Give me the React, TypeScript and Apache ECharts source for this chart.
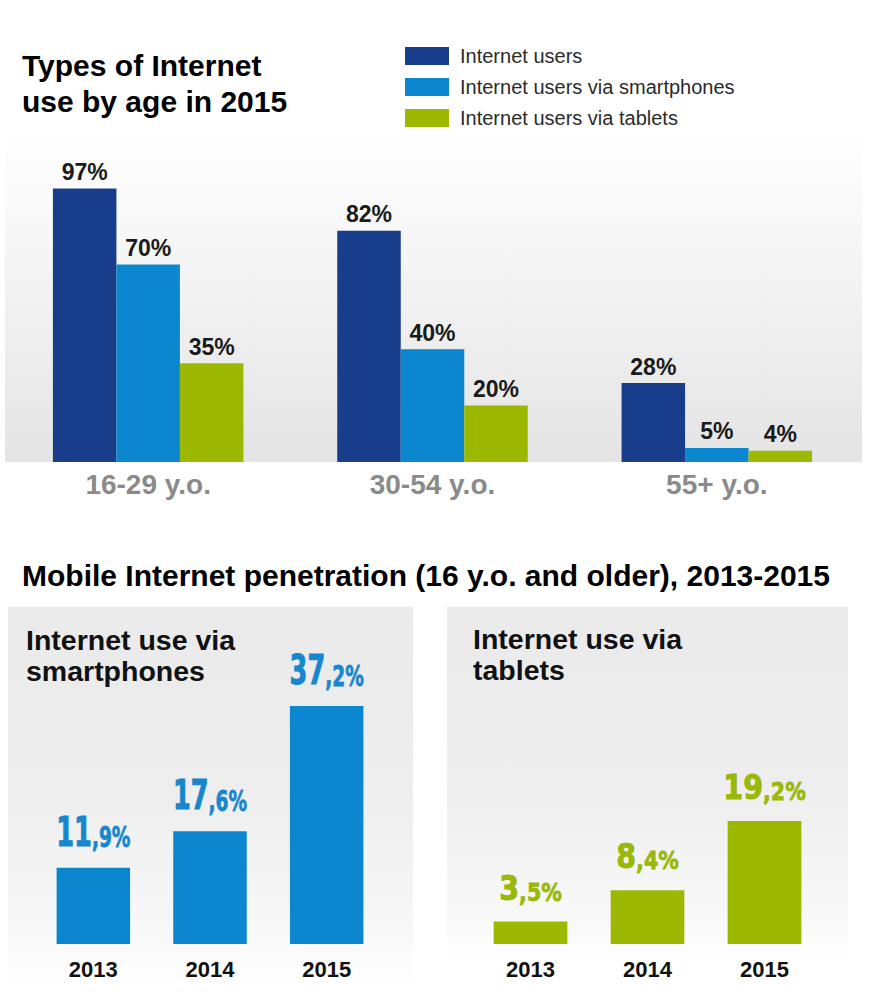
import React, { useEffect, useRef } from "react";
import * as echarts from "echarts";

// ---- data ----
const ageGroups = ["16-29 y.o.", "30-54 y.o.", "55+ y.o."];
const seriesNames = [
  "Internet users",
  "Internet users via smartphones",
  "Internet users via tablets",
];
const internetUsers = [97, 82, 28];
const smartphoneUsers = [70, 40, 5];
const tabletUsers = [35, 20, 4];

const years = ["2013", "2014", "2015"];
const smartphonePenetration = [11.9, 17.6, 37.2];
const tabletPenetration = [3.5, 8.4, 19.2];

const titleTop = "Types of Internet\nuse by age in 2015";
const titleBottom = "Mobile Internet penetration (16 y.o. and older), 2013-2015";
const panelTitleLeft = "Internet use via\nsmartphones";
const panelTitleRight = "Internet use via\ntablets";

// ---- styles ----
const DARK = "#173d8b";
const BLUE = "#0a87cf";
const GREEN = "#9cb800";
const LABEL_BLUE = "#1886cd";
const LABEL_GREEN = "#9ab80a";
const FONT = '"Liberation Sans", Arial, Helvetica, sans-serif';

function bigLabelSeries(
  name: string,
  values: number[],
  axisIndex: number,
  color: string,
  big: number,
  small: number,
  scaleX: number,
  offset: number
) {
  return {
    type: "custom",
    name,
    xAxisIndex: axisIndex,
    yAxisIndex: axisIndex,
    silent: true,
    z: 5,
    data: values.map((v, i) => [i, v]),
    renderItem: (params: any, api: any) => {
      const v = api.value(1) as number;
      const pt = api.coord([api.value(0), v]);
      const parts = v.toFixed(1).split(".");
      return {
        type: "text",
        x: pt[0],
        y: pt[1] - offset,
        scaleX,
        style: {
          text: `{a|${parts[0]}}{b|,${parts[1]}%}`,
          align: "center",
          verticalAlign: "bottom",
          fill: color,
          rich: {
            a: {
              fontSize: big,
              fontWeight: "bold",
              fontFamily: '"DejaVu Sans", sans-serif',
              fill: color,
              stroke: color,
              lineWidth: 1,
              verticalAlign: "bottom",
            },
            b: {
              fontSize: small,
              fontWeight: "bold",
              fontFamily: '"DejaVu Sans", sans-serif',
              fill: color,
              stroke: color,
              lineWidth: 0.8,
              verticalAlign: "bottom",
            },
          },
        },
      };
    },
  };
}

export default function App() {
  const ref = useRef<HTMLDivElement>(null);

  useEffect(() => {
    if (!ref.current) return;
    const chart = echarts.init(ref.current, null, { renderer: "svg" });

    const topBarLabel = {
      show: true,
      position: "top",
      distance: 5,
      formatter: "{c}%",
      fontSize: 23,
      fontWeight: "bold",
      fontFamily: FONT,
      color: "#1a1a1a",
    };

    const panelFill = () =>
      new echarts.graphic.LinearGradient(0, 0, 0, 1, [
        { offset: 0, color: "#eaeaea" },
        { offset: 0.5, color: "#eeeeee" },
        { offset: 0.85, color: "#f8f8f8" },
        { offset: 1, color: "#ffffff" },
      ]);

    const option: any = {
      animation: false,
      backgroundColor: "#ffffff",
      textStyle: { fontFamily: FONT },
      graphic: [
        {
          type: "rect",
          z: -10,
          shape: { x: 5, y: 130, width: 857, height: 332 },
          style: {
            fill: new echarts.graphic.LinearGradient(0, 0, 0, 1, [
              { offset: 0, color: "#ffffff" },
              { offset: 0.35, color: "#f6f6f6" },
              { offset: 1, color: "#e4e4e4" },
            ]),
          },
        },
        {
          type: "rect",
          z: -10,
          shape: { x: 8, y: 607, width: 405, height: 380 },
          style: { fill: panelFill() },
        },
        {
          type: "rect",
          z: -10,
          shape: { x: 447, y: 607, width: 401, height: 360 },
          style: { fill: panelFill() },
        },
        {
          type: "text",
          x: 22,
          y: 47,
          style: {
            text: titleTop,
            font: `bold 30px ${FONT}`,
            lineHeight: 36,
            fill: "#000000",
            verticalAlign: "top",
          },
        },
        {
          type: "text",
          x: 22,
          y: 560,
          style: {
            text: titleBottom,
            font: `bold 30px ${FONT}`,
            lineHeight: 30,
            fill: "#000000",
            verticalAlign: "top",
          },
        },
        {
          type: "text",
          x: 26,
          y: 624,
          style: {
            text: panelTitleLeft,
            font: `bold 28.5px ${FONT}`,
            lineHeight: 31,
            fill: "#111111",
            verticalAlign: "top",
          },
        },
        {
          type: "text",
          x: 473,
          y: 623,
          style: {
            text: panelTitleRight,
            font: `bold 28.5px ${FONT}`,
            lineHeight: 31,
            fill: "#111111",
            verticalAlign: "top",
          },
        },
      ],
      legend: {
        data: seriesNames,
        orient: "vertical",
        left: 405,
        top: 46,
        padding: 0,
        itemWidth: 44,
        itemHeight: 18,
        itemGap: 11,
        icon: "rect",
        selectedMode: false,
        textStyle: {
          fontSize: 20,
          color: "#2b2b2b",
          fontFamily: FONT,
          padding: [0, 0, 0, 6],
        },
      },
      grid: [
        { left: 6, width: 853, top: 180, height: 282 },
        { left: 35, width: 350, top: 688, height: 256 },
        { left: 472, width: 351, top: 688, height: 256 },
      ],
      xAxis: [
        {
          gridIndex: 0,
          type: "category",
          data: ageGroups,
          axisLine: { show: false },
          axisTick: { show: false },
          axisLabel: {
            margin: 8,
            fontSize: 28,
            fontWeight: "bold",
            color: "#8a8a8a",
            fontFamily: FONT,
          },
        },
        {
          gridIndex: 1,
          type: "category",
          data: years,
          axisLine: { show: false },
          axisTick: { show: false },
          axisLabel: {
            margin: 14,
            fontSize: 22,
            fontWeight: "bold",
            color: "#111111",
            fontFamily: FONT,
          },
        },
        {
          gridIndex: 2,
          type: "category",
          data: years,
          axisLine: { show: false },
          axisTick: { show: false },
          axisLabel: {
            margin: 14,
            fontSize: 22,
            fontWeight: "bold",
            color: "#111111",
            fontFamily: FONT,
          },
        },
      ],
      yAxis: [
        { gridIndex: 0, type: "value", min: 0, max: 100, show: false },
        { gridIndex: 1, type: "value", min: 0, max: 40, show: false },
        { gridIndex: 2, type: "value", min: 0, max: 40, show: false },
      ],
      series: [
        {
          type: "bar",
          name: seriesNames[0],
          xAxisIndex: 0,
          yAxisIndex: 0,
          data: internetUsers,
          itemStyle: { color: DARK },
          barGap: "0%",
          barCategoryGap: "33%",
          label: topBarLabel,
        },
        {
          type: "bar",
          name: seriesNames[1],
          xAxisIndex: 0,
          yAxisIndex: 0,
          data: smartphoneUsers,
          itemStyle: { color: BLUE },
          barGap: "0%",
          barCategoryGap: "33%",
          label: topBarLabel,
        },
        {
          type: "bar",
          name: seriesNames[2],
          xAxisIndex: 0,
          yAxisIndex: 0,
          data: tabletUsers,
          itemStyle: { color: GREEN },
          barGap: "0%",
          barCategoryGap: "33%",
          label: topBarLabel,
        },
        {
          type: "bar",
          name: "Internet use via smartphones",
          xAxisIndex: 1,
          yAxisIndex: 1,
          data: smartphonePenetration,
          itemStyle: { color: BLUE },
          barCategoryGap: "37%",
        },
        {
          type: "bar",
          name: "Internet use via tablets",
          xAxisIndex: 2,
          yAxisIndex: 2,
          data: tabletPenetration,
          itemStyle: { color: GREEN },
          barCategoryGap: "37%",
        },
        bigLabelSeries("smartphone labels", smartphonePenetration, 1, LABEL_BLUE, 40, 29, 0.64, 16),
        bigLabelSeries("tablet labels", tabletPenetration, 2, LABEL_GREEN, 34, 24.5, 0.84, 17),
      ],
    };

    chart.setOption(option);
    return () => {
      chart.dispose();
    };
  }, []);

  return (
    <div
      ref={ref}
      style={{ position: "absolute", left: 0, top: 0, width: 884, height: 996 }}
    />
  );
}
